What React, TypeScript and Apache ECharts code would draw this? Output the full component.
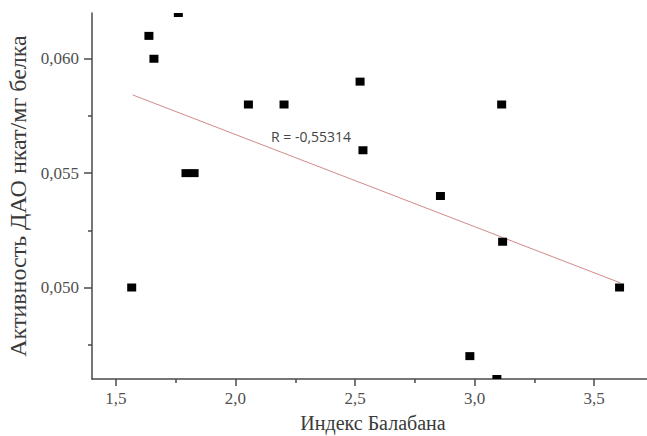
import React, { useEffect, useRef } from "react";
import * as echarts from "echarts";

const balabanIndex = [1.566, 1.638, 1.659, 1.761, 1.793, 1.827, 2.054, 2.203, 2.521, 2.533, 2.857, 2.98, 3.093, 3.113, 3.117, 3.606];
const daoActivity = [0.050, 0.061, 0.060, 0.062, 0.055, 0.055, 0.058, 0.058, 0.059, 0.056, 0.054, 0.047, 0.046, 0.058, 0.052, 0.050];
const trendX = [1.57, 3.61];
const trendY = [0.05842, 0.0502];
const xMajorTicks = [1.5, 2.0, 2.5, 3.0, 3.5];
const xMinorTicks = [1.75, 2.25, 2.75, 3.25];
const yMajorTicks = [0.05, 0.055, 0.06];
const yMinorTicks = [0.0475, 0.0525, 0.0575];
const xTitle = "Индекс Балабана";
const yTitle = "Активность ДАО нкат/мг белка";
const rLabel = "R = -0,55314";

const SERIF = "Liberation Serif";

export default function App() {
  const ref = useRef<HTMLDivElement>(null);
  useEffect(() => {
    if (!ref.current) return;
    const chart = echarts.init(ref.current, null, { renderer: "svg" });
    const points = balabanIndex.map((x, i) => [x, daoActivity[i]]);
    const trend = trendX.map((x, i) => [x, trendY[i]]);
    const axisColor = "#4a4a4a";
    const labelColor = "#505050";
    chart.setOption({
      animation: false,
      backgroundColor: "#ffffff",
      textStyle: { fontFamily: SERIF },
      grid: { left: 92, right: -7, top: 13, bottom: 57, containLabel: false, outerBoundsMode: "none" },
      xAxis: [
        {
          type: "value",
          min: 1.4,
          max: 3.75,
          splitLine: { show: false },
          axisLine: { show: true, lineStyle: { color: axisColor, width: 1.5 } },
          axisTick: { show: true, length: 7, customValues: xMajorTicks, lineStyle: { color: axisColor, width: 1.5 } },
          axisLabel: {
            customValues: xMajorTicks,
            margin: 11,
            fontFamily: SERIF,
            fontSize: 17,
            color: labelColor,
            formatter: (v: number) => v.toFixed(1).replace(".", ","),
          },
          name: xTitle,
          nameLocation: "middle",
          nameGap: 34,
          nameTextStyle: { color: "#3a3a3a", fontFamily: SERIF, fontSize: 20 },
        },
        {
          type: "value",
          min: 1.4,
          max: 3.75,
          position: "bottom",
          splitLine: { show: false },
          axisLine: { show: false },
          axisTick: { show: true, length: 4, customValues: xMinorTicks, lineStyle: { color: axisColor, width: 1.5 } },
          axisLabel: { show: false },
        },
      ],
      yAxis: [
        {
          type: "value",
          min: 0.046,
          max: 0.062,
          splitLine: { show: false },
          axisLine: { show: true, lineStyle: { color: axisColor, width: 1.5 } },
          axisTick: { show: true, length: 8, customValues: yMajorTicks, lineStyle: { color: axisColor, width: 1.5 } },
          axisLabel: {
            customValues: yMajorTicks,
            margin: 13,
            fontFamily: SERIF,
            fontSize: 17,
            color: labelColor,
            formatter: (v: number) => v.toFixed(3).replace(".", ","),
          },
          name: yTitle,
          nameLocation: "middle",
          nameGap: 56,
          nameRotate: 90,
          nameTextStyle: { color: "#3a3a3a", fontFamily: SERIF, fontSize: 24 },
        },
        {
          type: "value",
          min: 0.046,
          max: 0.062,
          position: "left",
          splitLine: { show: false },
          axisLine: { show: false },
          axisTick: { show: true, length: 4, customValues: yMinorTicks, lineStyle: { color: axisColor, width: 1.5 } },
          axisLabel: { show: false },
        },
      ],
      series: [
        {
          type: "line",
          data: trend,
          showSymbol: false,
          symbol: "none",
          lineStyle: { color: "#d08a8a", width: 1 },
          z: 1,
        },
        {
          type: "custom",
          clip: true,
          data: points,
          z: 3,
          renderItem: (params: any, api: any) => {
            const c = api.coord([api.value(0), api.value(1)]);
            const w = 9;
            const h = 8;
            return {
              type: "rect",
              shape: { x: c[0] - w / 2, y: c[1] - h / 2, width: w, height: h },
              style: { fill: "#000000" },
            };
          },
        },
      ],
      graphic: [
        {
          type: "text",
          left: 271,
          top: 129,
          style: {
            text: rLabel,
            fill: "#444444",
            font: "14px 'Open Sans', sans-serif",
          },
        },
      ],
    });
    return () => chart.dispose();
  }, []);
  return (
    <div
      ref={ref}
      style={{ position: "fixed", left: 0, top: 0, width: 647, height: 436, background: "#fff" }}
    />
  );
}
